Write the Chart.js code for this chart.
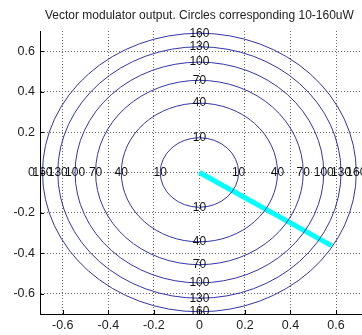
<!DOCTYPE html>
<html>
<head>
<meta charset="utf-8">
<script src="https://cdn.jsdelivr.net/npm/chart.js@4.4.1/dist/chart.umd.min.js"></script>
<style>
  html, body { margin: 0; padding: 0; background: #fff; overflow: hidden; }
  #wrap { width: 362px; height: 335px; }
</style>
</head>
<body>
<div id="wrap"><canvas id="chart" width="362" height="335"></canvas></div>
<script>
const titleText = 'Vector modulator output. Circles corresponding 10-160uW';

// contour levels (uW) and the radius each circle has on the axes
const powerLevels = [10, 40, 70, 100, 130, 160];
const circleRadii = [0.172, 0.343, 0.456, 0.546, 0.622, 0.689];

// modulator output vector (cyan)
const vectorX = [0, 0.58];
const vectorY = [0, -0.362];

const xTicks = [-0.6, -0.4, -0.2, 0, 0.2, 0.4, 0.6];
const yTicks = [-0.6, -0.4, -0.2, 0, 0.2, 0.4, 0.6];
const xRange = [-0.7, 0.714];
const yRange = [-0.7, 0.7];

const FONT = '"Liberation Sans", Arial, Helvetica, sans-serif';
const circleColor = '#3434a6';

// circles, their labels, inward tick marks and the title
const contourPlugin = {
  id: 'contour',
  afterDatasetsDraw(chart) {
    const { ctx, chartArea: a, scales: { x, y } } = chart;
    const cx = x.getPixelForValue(0);
    const cy = y.getPixelForValue(0);

    ctx.save();
    ctx.beginPath();
    ctx.rect(a.left, a.top - 2, a.right - a.left, a.bottom - a.top + 2);
    ctx.clip();
    ctx.strokeStyle = circleColor;
    ctx.lineWidth = 1;
    circleRadii.forEach(r => {
      const rx = x.getPixelForValue(r) - cx;
      const ry = cy - y.getPixelForValue(r);
      ctx.beginPath();
      ctx.ellipse(cx, cy, rx, ry, 0, 0, Math.PI * 2);
      ctx.stroke();
    });
    ctx.restore();

    ctx.save();
    ctx.fillStyle = '#111';
    ctx.font = '12px ' + FONT;
    ctx.textAlign = 'center';
    ctx.textBaseline = 'middle';
    powerLevels.forEach((p, i) => {
      const r = circleRadii[i];
      const t = String(p);
      ctx.fillText(t, cx, y.getPixelForValue(r));
      ctx.fillText(t, cx, y.getPixelForValue(-r));
      ctx.fillText(t, x.getPixelForValue(-r), cy);
      ctx.fillText(t, x.getPixelForValue(r), cy);
    });
    ctx.restore();

    // inward ticks
    ctx.save();
    ctx.strokeStyle = '#000';
    ctx.lineWidth = 1;
    ctx.beginPath();
    xTicks.forEach(v => {
      const px = Math.round(x.getPixelForValue(v)) + 0.5;
      ctx.moveTo(px, a.bottom);
      ctx.lineTo(px, a.bottom - 4);
    });
    yTicks.forEach(v => {
      const py = Math.round(y.getPixelForValue(v)) + 0.5;
      ctx.moveTo(a.left, py);
      ctx.lineTo(a.left + 4, py);
    });
    ctx.stroke();
    ctx.restore();

    // title, centred over the full axes box (x range -0.7..0.7)
    ctx.save();
    ctx.fillStyle = '#222';
    ctx.font = '12px ' + FONT;
    ctx.textAlign = 'center';
    ctx.textBaseline = 'alphabetic';
    const mid = (x.getPixelForValue(-0.7) + x.getPixelForValue(0.7)) / 2;
    ctx.fillText(titleText, mid, 19);
    ctx.restore();
  }
};

const tickFont = { family: FONT, size: 12.5 };

new Chart(document.getElementById('chart'), {
  type: 'scatter',
  data: {
    datasets: [{
      label: 'output',
      data: vectorX.map((v, i) => ({ x: v, y: vectorY[i] })),
      showLine: true,
      borderColor: '#00ffff',
      borderWidth: 5,
      borderCapStyle: 'butt',
      pointRadius: 0,
      fill: false
    }]
  },
  options: {
    responsive: false,
    animation: false,
    events: [],
    layout: { padding: { top: 31, left: 0, right: 0, bottom: 0 } },
    plugins: {
      legend: { display: false },
      tooltip: { enabled: false },
      title: { display: false }
    },
    scales: {
      x: {
        type: 'linear',
        min: xRange[0],
        max: xRange[1],
        afterBuildTicks: s => { s.ticks = xTicks.map(v => ({ value: v })); },
        afterFit: s => { s.height = 21; },
        ticks: { font: tickFont, color: '#222', padding: 4, callback: v => String(v) },
        grid: { color: '#666', drawTicks: false, lineWidth: 1 },
        border: { display: true, color: '#000', width: 1, dash: [1, 2] }
      },
      y: {
        type: 'linear',
        min: yRange[0],
        max: yRange[1],
        afterBuildTicks: s => { s.ticks = yTicks.map(v => ({ value: v })); },
        afterFit: s => { s.width = 40; },
        ticks: { font: tickFont, color: '#222', padding: 5, callback: v => String(v) },
        grid: { color: '#666', drawTicks: false, lineWidth: 1 },
        border: { display: true, color: '#000', width: 1, dash: [1, 2] }
      }
    }
  },
  plugins: [contourPlugin]
});
</script>
</body>
</html>
